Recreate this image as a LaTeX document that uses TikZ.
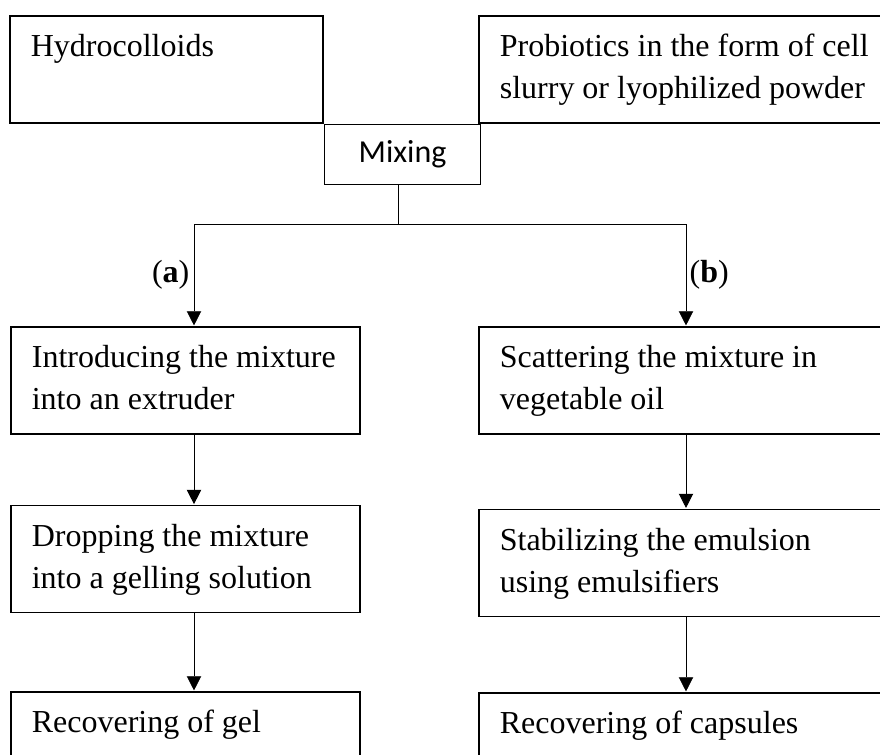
\documentclass[tikz,border=0pt]{standalone}
\usepackage{fontspec}
\setmainfont{Liberation Serif}
\newfontfamily\mixfont{Carlito}
\usetikzlibrary{arrows.meta, positioning}

\begin{document}
\begin{tikzpicture}[x=0.5pt, y=-0.5pt]
			\tikzset {>={Triangle[width=7.5pt, length=7.5pt]}, line width=0.65pt,
				box/.style={draw, line width=0.85pt, inner xsep=0pt, inner ysep=0pt, minimum height=53.5pt, font=\fontsize{16}{21}\selectfont, execute at begin node={\raggedright\spaceskip=4pt\leftskip=10.5pt\hyphenpenalty=10000\strut}, execute at end node=\strut},
				leftbox/.style={box, text width=174.5pt},
				rightbox/.style={box, text width=211pt},
				mixbox/.style={draw, line width=0.85pt, minimum width=78pt, minimum height=30pt, inner sep=0pt, font=\mixfont\fontsize{16}{19}\selectfont},
				tag/.style={inner sep=0pt, font=\fontsize{16}{19}\selectfont} }
			
			\path[use as bounding box, clip] (0,0) rectangle (880,755);
			
			\node[box, text width=156.5pt, anchor=north west] (hydro) at (9,15) {Hydrocolloids\\\mbox{}};
			\node[rightbox, anchor=north west] (probio) at (478,15) {Probiotics in the form of cell\\slurry or lyophilized powder};
			\node[mixbox, anchor=north west] (mix) at (hydro.south east) {Mixing};
			
			\node[leftbox, anchor=north west] (intro) at (10,326) {Introducing the mixture\\into an extruder};
			\node[leftbox, below=35pt of intro] (drop) {Dropping the mixture\\into a gelling solution};
			\node[leftbox, below=38.8pt of drop] (gel) {Recovering of gel\\\mbox{}};
			
			\node[rightbox, anchor=north west] (scatter) at (478,326) {Scattering the mixture in\\vegetable oil};
			\node[rightbox, below=36.9pt of scatter] (stab) {Stabilizing the emulsion\\using emulsifiers};
			\node[rightbox, below=37.4pt of stab] (caps) {Recovering of capsules\\\mbox{}};
			
			\coordinate (split) at (398,224);
			\coordinate (ja) at (194,224);
			\coordinate (jb) at (686,224);
			
			\node[tag, anchor=east] (taga) at (190,275) {(\textbf{a})};
			\node[tag, anchor=west] (tagb) at (689,275) {(\textbf{b})};
			
			\draw (split |- mix.south) -- (split);
			\draw (ja) -- (jb);
			\draw[->] (ja) -- (ja |- intro.north);
			\draw[->] (ja |- intro.south) -- (ja |- drop.north);
			\draw[->] (ja |- drop.south) -- (ja |- gel.north);
			\draw[->] (jb) -- (jb |- scatter.north);
			\draw[->] (jb |- scatter.south) -- (jb |- stab.north);
			\draw[->] (jb |- stab.south) -- (jb |- caps.north);
		\end{tikzpicture}
\end{document}
